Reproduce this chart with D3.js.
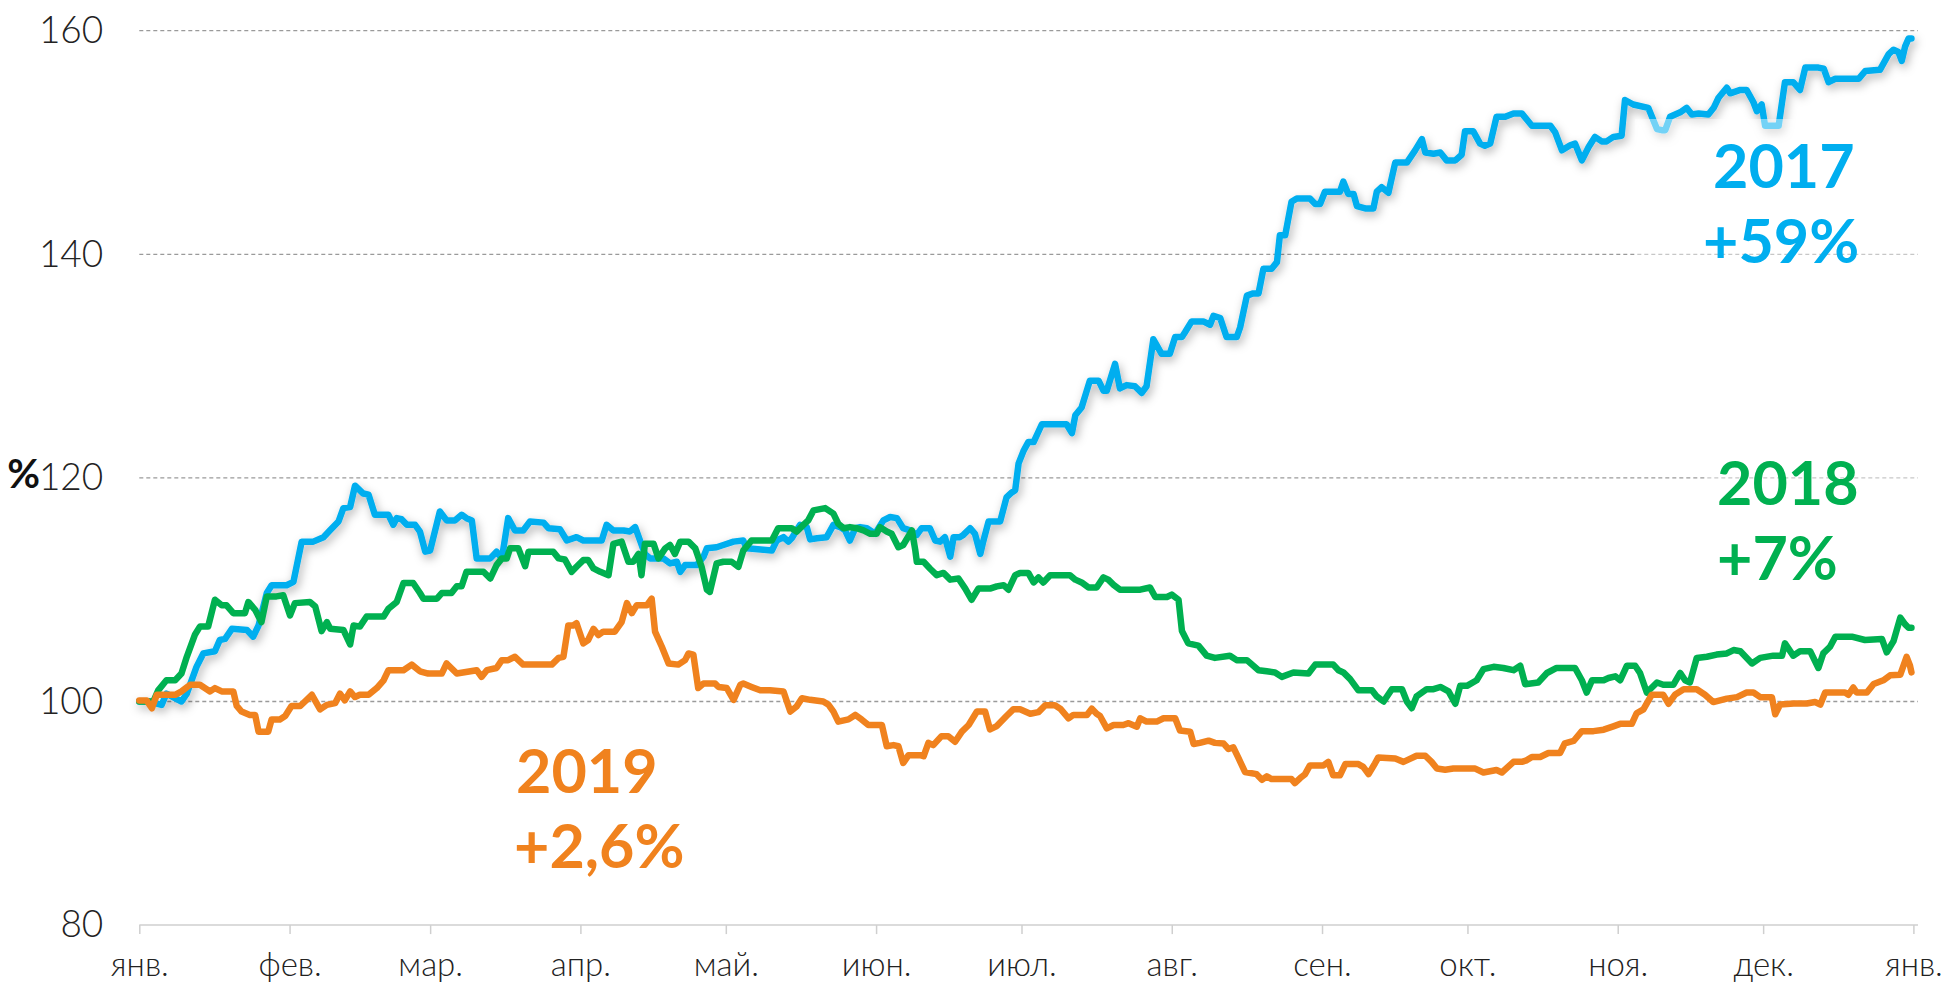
<!DOCTYPE html>
<html>
<head>
<meta charset="utf-8">
<script src="https://cdn.jsdelivr.net/npm/d3@7"></script>
<style>
  body { margin: 0; background: #fff; }
  svg { display: block; }
  .tick text { font-family: Lato, "Open Sans", sans-serif; font-weight: 300; fill: #222; }
</style>
</head>
<body>
<div id="chart"></div>
<script>
// month labels for the x axis (one per month start, 2020 calendar)
const monthLabels = ["янв.", "фев.", "мар.", "апр.", "май.", "июн.", "июл.", "авг.", "сен.", "окт.", "ноя.", "дек.", "янв."];
const yTicks = [80, 100, 120, 140, 160];
const gridValues = [100, 120, 140, 160];

// 2017 (day of year, index value)
const days2017 = [0,2,4.6,5.6,8.7,9.8,11.8,13.2,15.6,16.6,17.7,19.1,22.2,23.5,24.6,26.3,27.3,30.4,31.8,33.5,35.9,38,39.3,41.1,42.1,43.5,44.5,46.2,47.3,48.6,51.4,52.4,53.1,54.1,55.2,56.9,57.9,59,60,62,63.4,65.1,66.5,67.5,68.6,69.6,72.4,73.7,74.8,76.1,77.5,79.2,80.6,83.4,84.4,86.8,88.2,
  90.2,91.6,95.4,96.4,97.8,99.9,101.2,102.3,103.3,104.3,105.4,108.1,109.5,110.9,111.6,112.6,115,116.4,117.1,119.1,120.5,122.6,124.6,125.3,130.5,131.5,132.9,133.9,134.6,136.3,137.7,138.4,139.8,141.8,143.2,144.6,145.6,146.6,147.7,148.7,150.1,151.8,153.5,154.9,156.3,157.6,159,160.4,161.4,163.1,164.2,165.2,166.2,167.3,168,169.3,170,171.4,172.4,173.5,174.1,175.2,177.6,
  178.9,180,180.7,181.4,182.4,183.4,184.5,186.2,191.3,192.4,193.1,194.4,196.1,197.9,198.9,199.6,201.3,202.3,203.7,205.4,206.8,207.8,209.2,210.9,212.6,213.7,215.1,215.7,217.1,219.5,220.9,221.6,223,224.3,226.4,227.1,228.5,229.8,230.9,231.9,233.6,234.7,235.3,236.4,237.7,238.8,241.5,242.6,243.6,244.6,247.7,248.4,249.4,250.5,251.2,252.9,254.6,255.3,256.3,257.7,259.1,261.5,263.2,264.6,265.3,267,268.4,269.7,271.5,272.8,273.5,275.2,276.6,
  277.6,278.7,280,281.8,283.5,285.2,287.3,289,291.1,292.1,293.5,295.2,296.2,297.6,299,300.3,301.7,302.7,304.1,305.8,306.5,308.2,311.3,313.1,314.1,314.8,315.8,317.9,319.2,320.3,321.7,323.7,324.8,325.8,327.5,328.2,330.3,331.6,333,333.7,334.7,335.4,338.2,339.5,341.2,342.6,343.7,346.4,347.5,348.5,349.9,354.7,356.1,359.1,360.9,361.9,362.9,363.6,364.3,365,365.6];
const vals2017 = [100,100,99.7,100.7,100,100.7,103.1,104.3,104.5,105.5,105.6,106.5,106.4,105.8,106.8,109.7,110.4,110.4,110.7,114.3,114.3,114.7,115.3,116.1,117.3,117.4,119.3,118.6,118.5,116.7,116.7,115.8,116.4,116.3,115.8,115.8,115.2,113.4,113.5,117,116.2,116.2,116.7,116.4,116.2,112.8,112.8,113.4,112.8,116.4,115.3,115.3,116.1,116,115.5,115.4,114.4,
  114.7,114.4,114.4,115.8,115.3,115.3,115.2,115.6,114.4,113.2,112.8,112.8,112.35,112.5,111.6,112.2,112.2,112.95,113.7,113.8,114,114.3,114.4,113.7,113.5,114.4,114.7,114.3,114.6,115.8,115.6,114.5,114.6,114.7,115.8,115.6,115.3,114.4,115.5,115.6,115.5,115,116.2,116.5,116.4,115.5,115.3,114.9,115.5,115.5,114.4,114.3,114.7,112.95,114.7,114.7,114.9,115.5,115,113.2,114.3,116.1,116.1,
  118.25,118.7,118.9,121.3,122.4,123.2,123.2,124.8,124.8,124,125.6,126.3,128.7,128.7,127.8,127.8,130.2,128,128.3,128.2,127.6,128.2,132.4,131.1,131.1,132.6,132.6,133,134,134,133.7,134.5,134.3,132.6,132.6,133.45,136.3,136.5,136.5,138.7,138.7,139.3,141.7,141.7,144.7,145,145,144.5,144.5,145.6,145.6,146.5,145.4,145.4,144.3,144.1,144.1,145.6,146,145.5,148.2,148.2,149.3,150.3,149.1,149,149.1,148.4,148.4,148.9,151,151,149.9,
  149.7,149.9,152.3,152.3,152.6,152.6,151.5,151.5,151.5,150.9,149.3,149.75,149.9,148.4,149.6,150.5,150.1,150.1,150.5,150.6,153.8,153.4,153.1,151.2,151.1,151.1,152.3,152.7,153.1,152.5,152.6,152.5,153.1,154,154.9,154.4,154.7,154.7,153.6,152.8,153.4,151.5,151.5,155.4,155.4,154.7,156.7,156.7,156.6,155.4,155.7,155.7,156.4,156.5,157.9,158.3,158.1,157.3,158.6,159.3,159.3];

// 2018
const days2018 = [0,2.9,3.9,5.6,7.4,8.7,9.8,11.5,12.5,14.2,15.6,17,18,19.4,20.1,21.8,22.5,23.9,25.2,26.3,28.3,29.7,31.1,32.1,35.2,36.3,37.6,38.7,39.4,42.1,43.5,44.2,45.5,46.9,50.4,51.4,53.1,54.5,56.5,57.9,58.6,61.4,62.4,64.4,65.5,66.5,67.5,71,72.4,73.7,74.8,75.8,76.5,78.2,79.6,80.3,85.4,86.5,87.8,89.2,
  90.2,91.6,92.6,93.7,95.1,96.8,97.8,99.5,100.9,101.9,103,103.6,104.3,106.1,107.1,108.5,109.5,110.5,111.6,113.3,114.7,116,117.1,117.7,119.1,120.5,122.2,123.6,124.6,126.3,130.5,131.8,134.6,135.6,137,138,139.1,141.5,143.2,144.2,145.3,146.6,148,149.4,150.8,152.1,152.8,154.2,155.2,156.6,157.6,159.4,160.1,160.4,161.8,163.1,164.5,165.9,167.3,169,170.4,171.7,173.1,175.5,176.9,178.3,
  179.3,180.7,181.7,183.4,184.5,185.5,186.5,187.9,192,193.1,194.4,195.8,197.5,198.9,199.9,201,202.3,206.5,208.5,209.6,212,213,214.4,215.1,216.4,218.5,220.2,221.9,225,226.4,228.5,230.9,232.6,234.3,235.7,238.1,241.2,242.6,246.3,247.4,248.4,249.8,251.5,254.3,255.3,256.7,258.4,260.5,261.5,262.5,263.5,265.6,267,268.4,270.1,271.5,272.5,273.9,
  275.9,277.3,279.4,281.4,283.5,284.9,285.9,288.6,290.4,292.4,296.2,297.6,298.6,299.7,302.1,303.1,304.5,305.5,306.9,308.6,309.6,311,313.1,314.4,316.5,317.9,318.9,319.9,321.3,323.4,325.4,327.5,328.9,330.3,332.7,334.4,337.1,338.9,339.5,341.2,342.6,344.7,346.4,347.4,348.8,349.9,353.3,356,359.5,360.5,361.9,363.3,364.3,365,365.6];
const vals2018 = [100,100,101,101.9,101.9,102.5,104,106,106.7,106.7,109.1,108.6,108.6,107.9,107.9,107.9,108.9,108.2,107.1,109.4,109.4,109.5,107.7,108.8,108.9,108.5,106.3,107.1,106.5,106.4,105.1,106.8,106.7,107.6,107.6,108.3,108.9,110.6,110.6,109.7,109.2,109.2,109.7,109.7,110.3,110.3,111.6,111.6,111,112.2,112.8,112.8,113.7,113.7,112.1,113.4,113.4,112.8,112.7,111.6,
  112.05,112.65,112.65,111.9,111.6,111.3,114.1,114.3,112.5,112.5,113.2,111.3,114.1,114.1,112.8,113.7,114,113.2,114.3,114.3,113.7,112.05,110,109.8,112.35,112.5,112.5,112.05,113.5,114.4,114.4,115.5,115.5,115.2,115.8,116.2,117.1,117.3,116.8,115.9,115.5,115.6,115.5,115.3,115,115,115.6,115.2,115,113.8,114,115.3,113.5,112.5,112.5,111.9,111.3,111.5,110.9,111,110.1,109.1,110.1,110.1,110.3,110.4,
  110,111.3,111.5,111.5,110.65,111.1,110.65,111.3,111.3,110.9,110.65,110.2,110.2,111.1,110.9,110.43,110,110,110.2,109.35,109.35,109.56,109.1,106.3,105.2,105,104.1,103.9,104.1,103.7,103.7,102.8,102.7,102.6,102.2,102.6,102.5,103.3,103.3,102.8,102.6,102,101,101,100.45,100,101.1,101.1,100,99.4,100.45,101.1,101.1,101.3,100.9,99.8,101.4,101.4,
  101.9,102.9,103.1,103,102.8,103.2,101.55,101.7,102.55,103,103,101.9,100.8,101.9,101.9,102.1,102.25,101.9,103.2,103.2,102.55,100.8,101.7,101.5,101.5,102.55,101.9,101.7,103.9,104,104.2,104.3,104.6,104.5,103.4,103.9,104.1,104.1,105.2,104.1,104.5,104.5,103,104.3,104.9,105.8,105.8,105.5,105.6,104.4,105.4,107.5,106.9,106.6,106.6];

// 2019
const days2019 = [0,1.5,2.6,3.6,7.4,8.7,10.5,12.5,14.6,15.6,17,19.4,20.1,21.1,22.8,23.9,24.6,26.6,27.3,29,30.1,31.4,33.2,35.6,37.3,38.7,40.4,41.4,42.4,43.5,44.5,45.5,47.3,49,50.4,51.4,54.5,56.2,57.9,59.6,62.4,63.4,65.5,69.6,70.6,71.7,73.7,74.8,76.1,77.5,79.2,85.1,86.5,87.5,88.5,89.5,
  90.2,91.6,92.6,93.7,94.7,95.7,98.1,99.5,100.6,101.6,102.6,104.7,105.7,106.4,107.8,109.2,111.2,112.6,113.3,114.3,115.3,116.4,118.8,119.5,121.2,122.6,124,124.6,126.3,128.1,130.1,132.9,134.3,135.6,136.7,138.4,141.1,142.2,143.2,144.2,146.3,147.7,149,150.4,153.2,154.2,155.6,156.6,157.6,158.7,161.1,161.8,162.8,163.8,165.5,166.9,168.3,169.7,171.1,172.8,174.5,175.5,176.9,
  178.9,180.3,181.7,183.8,185.5,186.9,188.9,190,191.7,192.7,195.5,196.5,197.5,198.2,199.6,201,203,204.1,205.8,206.5,207.8,209.9,211.3,213.7,214.7,216.8,217.5,218.8,220.6,221.9,223.7,224.7,225.7,226.7,228.1,230.5,231.6,232.6,233.6,237.7,238.4,239.5,240.5,241.5,244.3,245.3,246.3,247.7,248.8,251.5,252.5,253.6,254.9,255.6,259.1,260.8,261.8,263.5,265.3,266.6,267.7,269.4,271.1,273.9,275.6,
  277.3,280,281.1,283.5,285.2,286.2,287.3,289,290.7,293.1,294.1,295.9,297.6,300,302.1,304.1,305.5,307.9,308.9,310.3,312,314.4,315.5,316.8,318.6,321.3,323,324.7,327.5,329.6,331.6,333,334.4,336.8,337.5,338.5,341.3,344,345.7,346.8,347.8,351.9,352.6,353.6,354.3,356.4,357.8,359.8,361.2,363.3,364.6,365.3,365.6];
const vals2019 = [100.1,100.1,99.4,100.6,100.6,100.9,101.5,101.5,100.9,101.2,100.9,100.9,99.6,99.1,98.8,98.8,97.3,97.3,98.4,98.4,98.7,99.6,99.6,100.6,99.3,99.7,99.85,100.7,100.1,100.9,100.4,100.6,100.6,101.2,101.9,102.8,102.8,103.3,102.7,102.5,102.5,103.4,102.5,102.8,102.2,102.8,103,103.7,103.7,104,103.3,103.3,103.9,104,106.8,106.8,
  107,105.2,105.5,106.5,105.95,106.25,106.25,107.1,108.8,107.9,108.6,108.6,109.2,106.25,104.9,103.4,103.3,103.7,104.3,104.2,101.2,101.6,101.6,101.3,101.2,100.15,101.5,101.6,101.3,101,101,100.9,99.1,99.55,100.3,100.15,100,99.7,99.1,98.2,98.4,98.8,98.4,97.9,97.9,96,96.1,96,94.5,95.2,95.2,95.1,96.3,96.1,96.9,96.9,96.4,97.3,97.9,99.1,99.1,97.5,97.8,
  98.7,99.3,99.3,98.9,99.05,99.66,99.66,99.36,98.5,98.8,98.8,99.36,98.9,98.7,97.6,97.9,97.9,98.06,97.75,98.5,98.2,98.2,98.5,98.5,97.4,97.3,96.2,96.3,96.5,96.3,96.24,95.75,95.9,95,93.7,93.5,93,93.3,93.06,93.06,92.7,93.15,93.5,94.28,94.28,94.6,93.4,93.4,94.4,94.4,94.15,93.5,94.45,95,94.9,94.6,94.8,95.15,95.15,94.6,94,93.9,94,94,94,
  93.65,93.87,93.65,94.6,94.6,94.74,95.04,95.04,95.39,95.39,96.26,96.47,97.35,97.35,97.48,97.78,98,98,98.95,99.3,100.6,100.6,99.8,100.6,101.1,101.1,100.6,99.95,100.26,100.39,100.8,100.8,100.39,100.39,98.86,99.73,99.82,99.82,99.95,99.73,100.8,100.8,100.6,101.25,100.8,100.8,101.56,101.9,102.34,102.4,104,103.2,102.6];

const colors = { y2017: "#00AEEF", y2018: "#00B050", y2019: "#F0821E" };

const width = 1947;
const height = 982;
const x0 = 139.3, x1 = 1913.4, gridEnd = 1918;
const yTop = 30.7, yBottom = 925.1;

const start = new Date(2020, 0, 1);
const toDate = d => new Date(start.getTime() + d * 864e5);

const x = d3.scaleTime()
    .domain([start, new Date(2021, 0, 1)])
    .range([x0, x1]);

const y = d3.scaleLinear()
    .domain([80, 160])
    .range([yBottom, yTop]);

const svg = d3.select("#chart").append("svg")
    .attr("width", width)
    .attr("height", height)
    .style("background", "#fff");

// shadow under the 2017 line
const defs = svg.append("defs");
defs.append("filter")
    .attr("id", "shadow")
    .attr("x", "-5%").attr("y", "-20%")
    .attr("width", "110%").attr("height", "140%")
    .append("feDropShadow")
    .attr("dx", 2).attr("dy", 4)
    .attr("stdDeviation", 5)
    .attr("flood-color", "#000")
    .attr("flood-opacity", 0.3);

// dashed gridlines
svg.append("g")
    .selectAll("line")
    .data(gridValues)
    .enter()
    .append("line")
    .attr("x1", x0)
    .attr("x2", gridEnd)
    .attr("y1", d => y(d))
    .attr("y2", d => y(d))
    .style("stroke", "#9a9a9a")
    .style("stroke-width", 1.3)
    .style("stroke-dasharray", "4,3");

// y axis labels
const yAxis = svg.append("g")
    .attr("transform", "translate(" + x0 + ",0)")
    .call(d3.axisLeft(y).tickValues(yTicks).tickSize(0).tickPadding(36));
yAxis.select(".domain").remove();
yAxis.selectAll("text").style("font-size", "37px");

// x axis
const months = d3.timeMonth.range(start, new Date(2021, 0, 2));
const xAxis = svg.append("g")
    .attr("transform", "translate(0," + yBottom + ")")
    .call(d3.axisBottom(x)
        .tickValues(months)
        .tickSize(9)
        .tickPadding(18)
        .tickFormat((d, i) => monthLabels[i]));
xAxis.select(".domain").remove();
xAxis.selectAll(".tick line").style("stroke", "#cfcfcf").style("stroke-width", 1.5);
xAxis.selectAll("text").style("font-size", "33px");
svg.append("line")
    .attr("x1", x0).attr("x2", gridEnd)
    .attr("y1", yBottom).attr("y2", yBottom)
    .style("stroke", "#cfcfcf")
    .style("stroke-width", 1.5);

// "%" unit label
svg.append("text")
    .attr("x", 40)
    .attr("y", 488)
    .attr("text-anchor", "end")
    .style("font-family", "Lato, sans-serif")
    .style("font-weight", 700)
    .style("font-size", "40px")
    .style("fill", "#111")
    .text("%");

// lines
const line = d3.line()
    .x(d => x(toDate(d[0])))
    .y(d => y(d[1]));

const series = [
    { key: "y2017", days: days2017, vals: vals2017, shadow: true },
    { key: "y2018", days: days2018, vals: vals2018 },
    { key: "y2019", days: days2019, vals: vals2019 }
];

series.forEach(function(s) {
    const pts = s.days.map((d, i) => [d, s.vals[i]]);
    const path = svg.append("path")
        .datum(pts)
        .attr("d", line)
        .style("fill", "none")
        .style("stroke", colors[s.key])
        .style("stroke-width", 6.5)
        .style("stroke-linejoin", "round")
        .style("stroke-linecap", "round");
    if (s.shadow) path.attr("filter", "url(#shadow)");
});

// translucent boxes behind the year labels
svg.append("rect")
    .attr("x", 1635).attr("y", 119)
    .attr("width", 300).attr("height", 155)
    .style("fill", "#fff").style("opacity", 0.45);
svg.append("rect")
    .attr("x", 1705).attr("y", 440)
    .attr("width", 230).attr("height", 150)
    .style("fill", "#fff").style("opacity", 0.45);

// annotations
const notes = [
    { key: "y2017", x: 1713, y: 188, lines: ["2017", "+59%"], dx: [0, -10] },
    { key: "y2018", x: 1717, y: 505, lines: ["2018", "+7%"], dx: [0, 0] },
    { key: "y2019", x: 516, y: 793, lines: ["2019", "+2,6%"], dx: [0, -2] }
];

notes.forEach(function(n) {
    const t = svg.append("text")
        .style("font-family", "Lato, sans-serif")
        .style("font-weight", 700)
        .style("font-size", "61px")
        .style("fill", colors[n.key]);
    n.lines.forEach(function(l, i) {
        t.append("tspan")
            .attr("x", n.x + n.dx[i])
            .attr("y", n.y + i * 75)
            .text(l);
    });
});
</script>
</body>
</html>
